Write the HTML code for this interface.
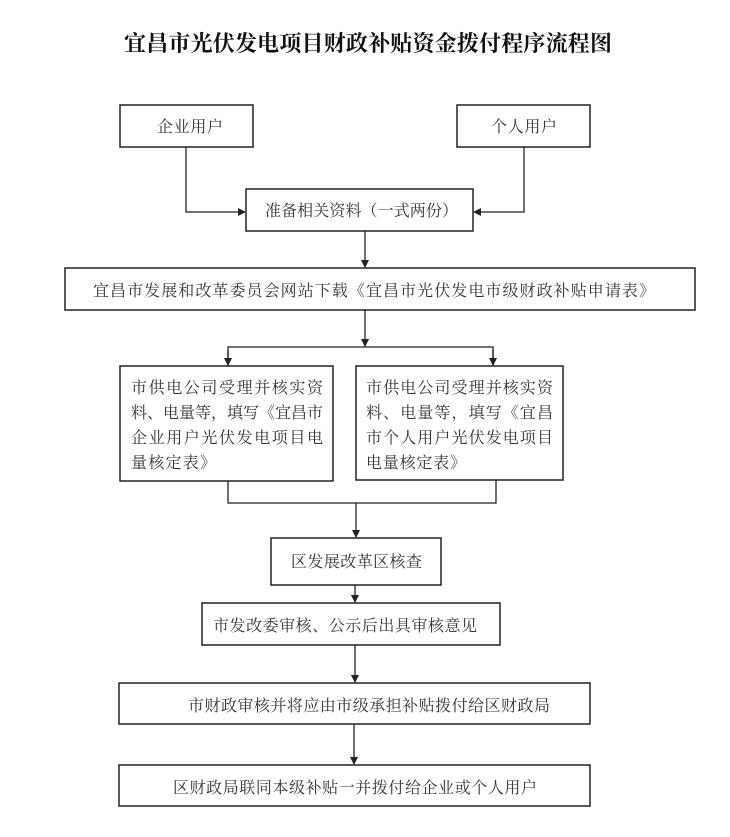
<!DOCTYPE html>
<html><head><meta charset="utf-8"><style>
html,body{margin:0;padding:0;background:#fff;}
svg{display:block;}
text{font-family:"Liberation Serif","Noto Serif CJK SC",serif;fill:#333;font-size:16px;}
.t{font-size:22px;font-weight:bold;fill:#111;}
rect{fill:#fff;stroke:#222;stroke-width:1.5;}
line,polyline{stroke:#222;stroke-width:1.3;fill:none;}
</style></head><body>
<svg width="730" height="837" viewBox="0 0 730 837" xmlns="http://www.w3.org/2000/svg">
<defs><marker id="a" markerWidth="8" markerHeight="8" refX="7" refY="4" orient="auto" markerUnits="userSpaceOnUse"><path d="M0,0 L8,4 L0,8 z" fill="#222"/></marker></defs>
<text class="t" x="124" y="51" textLength="488">宜昌市光伏发电项目财政补贴资金拨付程序流程图</text>

<rect x="120" y="105" width="133" height="42"/>
<text x="157" y="132" textLength="66">企业用户</text>
<rect x="457" y="105" width="133" height="42"/>
<text x="491" y="132" textLength="66">个人用户</text>

<polyline points="186,147 186,212 245,212" marker-end="url(#a)"/>
<polyline points="524,147 524,212 474,212" marker-end="url(#a)"/>
<rect x="246" y="189" width="227" height="42"/>
<text x="265" y="216" textLength="193">准备相关资料（一式两份）</text>

<line x1="365" y1="231" x2="365" y2="267" marker-end="url(#a)"/>
<rect x="65" y="268" width="630" height="42"/>
<text x="93" y="296" textLength="562">宜昌市发展和改革委员会网站下载《宜昌市光伏发电市级财政补贴申请表》</text>

<line x1="365" y1="310" x2="365" y2="346" marker-end="url(#a)"/>
<polyline points="228,365 228,347 493,347 493,365"/>
<line x1="228" y1="350" x2="228" y2="365" marker-end="url(#a)"/>
<line x1="493" y1="350" x2="493" y2="365" marker-end="url(#a)"/>

<rect x="120" y="366" width="213" height="115"/>
<text x="131" y="393" textLength="192">市供电公司受理并核实资</text>
<text x="131" y="418" textLength="192">料、电量等，填写《宜昌市</text>
<text x="131" y="443" textLength="192">企业用户光伏发电项目电</text>
<text x="131" y="468" textLength="85">量核定表》</text>

<rect x="356" y="366" width="207" height="114"/>
<text x="366" y="393" textLength="187">市供电公司受理并核实资</text>
<text x="366" y="418" textLength="187">料、电量等，填写《宜昌</text>
<text x="366" y="443" textLength="187">市个人用户光伏发电项目</text>
<text x="366" y="468" textLength="100">电量核定表》</text>

<polyline points="228,481 228,503 496,503 496,480"/>
<line x1="356" y1="503" x2="356" y2="537" marker-end="url(#a)"/>
<rect x="271" y="538" width="170" height="47"/>
<text x="291" y="567" textLength="131">区发展改革区核查</text>

<line x1="355" y1="585" x2="355" y2="602" marker-end="url(#a)"/>
<rect x="202" y="603" width="298" height="42"/>
<text x="213" y="631" textLength="264">市发改委审核、公示后出具审核意见</text>

<line x1="355" y1="645" x2="355" y2="682" marker-end="url(#a)"/>
<rect x="119" y="683" width="471" height="41"/>
<text x="188" y="711" textLength="362">市财政审核并将应由市级承担补贴拨付给区财政局</text>

<line x1="354" y1="724" x2="354" y2="764" marker-end="url(#a)"/>
<rect x="119" y="765" width="471" height="41"/>
<text x="173" y="793" textLength="364">区财政局联同本级补贴一并拨付给企业或个人用户</text>
</svg>
</body></html>
